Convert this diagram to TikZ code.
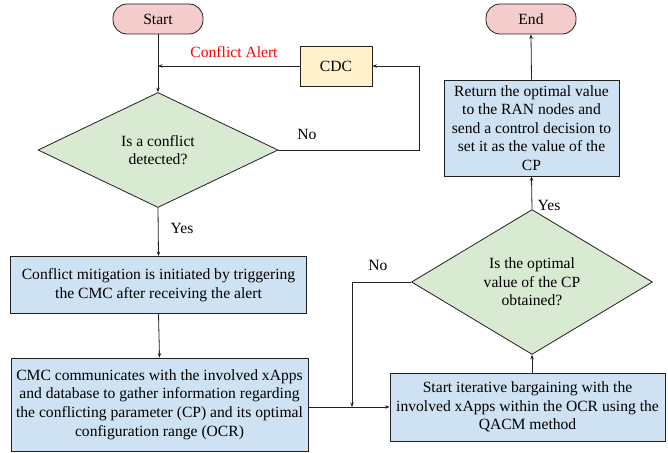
\documentclass[tikz,border=0pt]{standalone}
\usepackage{fontspec}
\setmainfont{Liberation Serif}
\newfontfamily\diagfont{Liberation Serif}
\usetikzlibrary{shapes.geometric,arrows.meta}
\definecolor{pinkfill}{HTML}{F4CCCC}
\definecolor{greenfill}{HTML}{D9EAD3}
\definecolor{bluefill}{HTML}{CFE2F3}
\definecolor{yellowfill}{HTML}{FFF2CC}
\definecolor{alertred}{HTML}{FF0000}
\definecolor{edge}{HTML}{202020}
\begin{document}
\begin{tikzpicture}[x=1pt,y=-1pt,
  font=\diagfont\fontsize{15.6}{18.6}\selectfont,
  line width=0.8pt,
  term/.style={draw=edge, fill=pinkfill, rounded corners=14pt, minimum width=90pt, minimum height=30pt, inner sep=0pt},
  proc/.style={draw=edge, fill=bluefill, align=center, inner sep=0pt},
  dec/.style={draw=edge, diamond, fill=greenfill, align=center, inner sep=0pt},
  cdcbox/.style={draw=edge, fill=yellowfill, minimum width=72pt, minimum height=40pt, inner sep=0pt},
  arr/.style={draw=edge, -{Stealth[length=4.5pt,width=3.5pt]}},
  lbl/.style={inner sep=0pt}
]
\useasboundingbox (0,0) rectangle (668,452);

\node[term] (start) at (158,19) {Start};
\node[term] (end) at (531,19) {End};
\node[cdcbox] (cdc) at (336,66) {CDC};
\node[lbl, text=alertred] (alert) at (234,52) {Conflict Alert};
\node[dec, minimum width=240pt, minimum height=115pt] (d1) at (158,150) {Is a conflict\\detected?};
\node[proc, minimum width=296pt, minimum height=57pt] (b1) at (158.5,285) {Conflict mitigation is initiated by triggering\\the CMC after receiving the alert};
\node[proc, minimum width=297pt, minimum height=93pt] (b2) at (159.5,404.5) {CMC communicates with the involved xApps\\and database to gather information regarding\\the conflicting parameter (CP) and its optimal\\configuration range (OCR)};
\node[proc, minimum width=275pt, minimum height=68pt] (b3) at (527.5,407) {Start iterative bargaining with the\\involved xApps within the OCR using the\\QACM method};
\node[dec, minimum width=241pt, minimum height=116pt] (d2) at (532,282) {Is the optimal\\value of the CP\\obtained?};
\node[proc, minimum width=175pt, minimum height=96pt] (b4) at (531.5,128) {Return the optimal value\\to the RAN nodes and\\send a control decision to\\set it as the value of the\\CP};

\coordinate (join1) at (158,66);
\coordinate (loopr) at (419,150);
\coordinate (loopt) at (419,66);
\coordinate (join2) at (352,407);
\coordinate (noc) at (352,282);

\draw[arr] (start.south) -- (d1.north);
\draw[arr] (cdc.west) -- (join1);
\draw[arr] (d1.east) -- (loopr) -- (loopt) -- (cdc.east);
\draw[arr] (d1.south) -- (b1.north);
\draw[arr] (b1.south) -- (b2.north);
\draw[arr] (b2.east |- join2) -- (b3.west |- join2);
\draw[arr] (d2.west) -- (noc) -- (join2);
\draw[arr] (b3.north -| d2.south) -- (d2.south);
\draw[arr] (d2.north) -- (b4.south);
\draw[arr] (b4.north) -- (end.south);

\node[lbl] (no1) at (307,134) {No};
\node[lbl] (yes1) at (182,228) {Yes};
\node[lbl] (no2) at (378,265) {No};
\node[lbl] (yes2) at (549,205) {Yes};
\end{tikzpicture}
\end{document}
